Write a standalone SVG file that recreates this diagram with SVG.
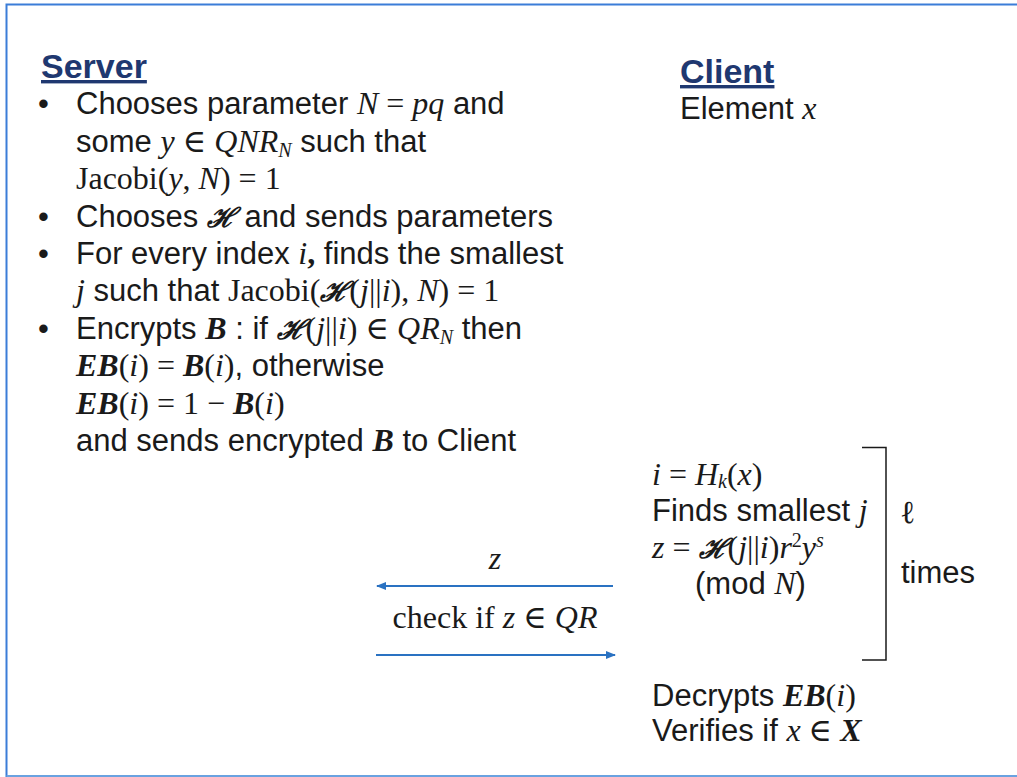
<svg xmlns="http://www.w3.org/2000/svg" width="1017" height="777" viewBox="0 0 1017 777">
<style>
.t{font-family:"Liberation Sans",Arial,sans-serif;font-size:31px;fill:#1a1a1a}
.h{font-family:"Liberation Sans",Arial,sans-serif;font-size:34px;font-weight:bold;fill:#1f3870;text-decoration:underline}
.m{font-family:"Liberation Serif","DejaVu Serif",serif;font-style:italic;font-size:32px}
.r{font-family:"Liberation Serif","DejaVu Serif",serif;font-style:normal;font-size:32px}
.b{font-family:"Liberation Serif","DejaVu Serif",serif;font-style:italic;font-weight:bold;font-size:32px}
.s{font-family:"DejaVu Serif",serif;font-style:italic;font-weight:bold;font-size:27px}
.sub{font-size:20px}
.conn{stroke:#2a72c2;stroke-width:1.8;fill:none}
</style>
<defs>
<marker id="ah" markerWidth="10" markerHeight="8" refX="9" refY="4" orient="auto" markerUnits="userSpaceOnUse">
<path d="M0,0 L10,4 L0,8 Z" fill="#2a72c2"/>
</marker>
</defs>
<rect width="1017" height="777" fill="#fff"/>
<path d="M6.5,777 L6.5,4.5 L1017,4.5" stroke="#3b7dd8" stroke-width="2" fill="none"/>
<path d="M6.5,776 L1017,776" stroke="#6aa2e0" stroke-width="2" fill="none"/>

<g id="server">
<text class="h" x="41" y="78">Server</text>
<text class="t" x="38" y="114">•</text>
<text class="t" x="76" y="114">Chooses parameter <tspan class="m">N</tspan><tspan class="r"> = </tspan><tspan class="m">pq</tspan> and</text>
<text class="t" x="76" y="152">some <tspan class="m">y</tspan><tspan class="r"> ∈ </tspan><tspan class="m">QNR</tspan><tspan class="m sub" dy="5">N</tspan><tspan dy="-5"> such that</tspan></text>
<text class="t" x="76" y="189"><tspan class="r">Jacobi(</tspan><tspan class="m">y</tspan><tspan class="r">, </tspan><tspan class="m">N</tspan><tspan class="r">) = 1</tspan></text>
<text class="t" x="38" y="227">•</text>
<text class="t" x="76" y="227">Chooses <tspan class="s">ℋ</tspan> and sends parameters</text>
<text class="t" x="38" y="264">•</text>
<text class="t" x="76" y="264">For every index <tspan class="m">i</tspan><tspan class="r" font-weight="bold">,</tspan> finds the smallest</text>
<text class="t" x="76" y="301"><tspan class="m">j</tspan> such that <tspan class="r">Jacobi(</tspan><tspan class="s">ℋ</tspan><tspan class="r">(</tspan><tspan class="m">j</tspan><tspan class="r">||</tspan><tspan class="m">i</tspan><tspan class="r">), </tspan><tspan class="m">N</tspan><tspan class="r">) = 1</tspan></text>
<text class="t" x="38" y="339">•</text>
<text class="t" x="76" y="339">Encrypts <tspan class="b">B</tspan> : if <tspan class="s">ℋ</tspan><tspan class="r">(</tspan><tspan class="m">j</tspan><tspan class="r">||</tspan><tspan class="m">i</tspan><tspan class="r">) ∈ </tspan><tspan class="m">QR</tspan><tspan class="m sub" dy="5">N</tspan><tspan dy="-5"> then</tspan></text>
<text class="t" x="76" y="376"><tspan class="b">EB</tspan><tspan class="r">(</tspan><tspan class="m">i</tspan><tspan class="r">) = </tspan><tspan class="b">B</tspan><tspan class="r">(</tspan><tspan class="m">i</tspan><tspan class="r">)</tspan>, otherwise</text>
<text class="t" x="76" y="414"><tspan class="b">EB</tspan><tspan class="r">(</tspan><tspan class="m">i</tspan><tspan class="r">) = 1 − </tspan><tspan class="b">B</tspan><tspan class="r">(</tspan><tspan class="m">i</tspan><tspan class="r">)</tspan></text>
<text class="t" x="76" y="451">and sends encrypted <tspan class="b">B</tspan> to Client</text>
</g>

<g id="client">
<text class="h" x="680" y="83">Client</text>
<text class="t" x="680" y="119">Element <tspan class="m">x</tspan></text>
</g>

<g id="loop">
<text class="t" x="652" y="485"><tspan class="m">i</tspan><tspan class="r"> = </tspan><tspan class="m">H</tspan><tspan class="m sub" dy="3">k</tspan><tspan class="r" dy="-3">(</tspan><tspan class="m">x</tspan><tspan class="r">)</tspan></text>
<text class="t" x="652" y="521">Finds smallest <tspan class="m">j</tspan></text>
<text class="t" x="652" y="558"><tspan class="m">z</tspan><tspan class="r"> = </tspan><tspan class="s">ℋ</tspan><tspan class="r">(</tspan><tspan class="m">j</tspan><tspan class="r">||</tspan><tspan class="m">i</tspan><tspan class="r">)</tspan><tspan class="m">r</tspan><tspan class="r sub" dy="-11">2</tspan><tspan class="m" dy="11">y</tspan><tspan class="m sub" dy="-11">s</tspan></text>
<text class="t" x="695" y="594">(mod <tspan class="m">N</tspan>)</text>
<path d="M862,447.5 L886,447.5 L886,660 L862,660" stroke="#1a1a1a" stroke-width="1.5" fill="none"/>
<text class="t" x="900" y="523"><tspan class="r">ℓ</tspan></text>
<text class="t" x="901" y="583">times</text>
</g>

<g id="result">
<text class="t" x="652" y="706">Decrypts <tspan class="b">EB</tspan><tspan class="r">(</tspan><tspan class="m">i</tspan><tspan class="r">)</tspan></text>
<text class="t" x="652" y="741">Verifies if  <tspan class="m">x</tspan><tspan class="r"> ∈ </tspan><tspan class="b">X</tspan></text>
</g>

<g id="connectors">
<line class="conn" x1="613" y1="586" x2="377" y2="586" marker-end="url(#ah)"/>
<line class="conn" x1="376" y1="655" x2="615" y2="655" marker-end="url(#ah)"/>
<text class="t" x="495" y="569" text-anchor="middle"><tspan class="m">z</tspan></text>
<text class="t" x="495" y="628" text-anchor="middle"><tspan class="r">check if </tspan><tspan class="m">z</tspan><tspan class="r">  ∈ </tspan><tspan class="m">QR</tspan></text>
</g>
</svg>
